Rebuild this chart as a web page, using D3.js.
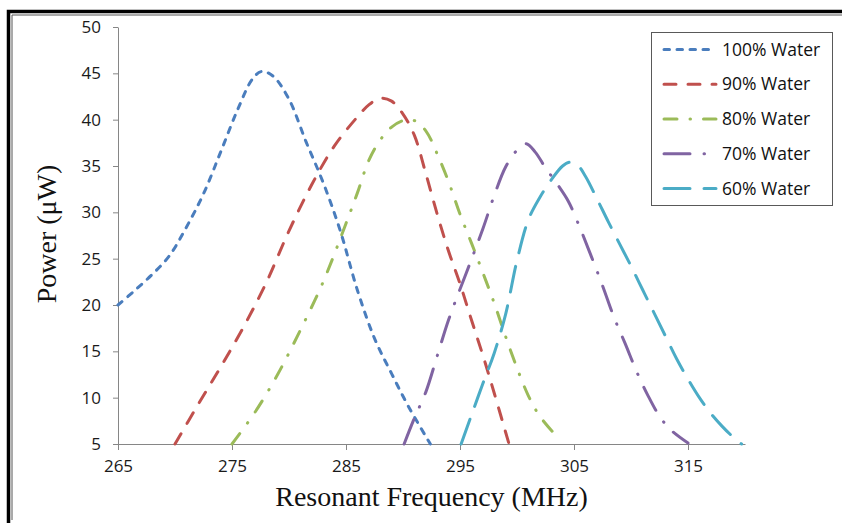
<!DOCTYPE html>
<html>
<head>
<meta charset="utf-8">
<script src="https://cdn.jsdelivr.net/npm/d3@7/dist/d3.min.js"></script>
<style>
  html, body { margin: 0; padding: 0; background: #fff; }
  svg { display: block; }
</style>
</head>
<body>
<div id="chart"></div>
<script>
// Resonant frequency sweep: received power vs frequency for water/soil mixtures
const seriesNames = ["100% Water", "90% Water", "80% Water", "70% Water", "60% Water"];

const freq100  = [265, 266.5, 268, 269.5, 271, 272.5, 274, 275.5, 276.8, 277.6, 278.6, 280, 281.5, 283, 284.5, 286, 287.5, 289, 290.5, 292.4];
const power100 = [20, 21.6, 23.3, 25.3, 28.4, 32.0, 36.5, 41.1, 44.4, 45.2, 44.7, 42.2, 37.6, 33.2, 28.0, 21.6, 16.4, 12.6, 9.0, 5.0];

const freq90  = [270, 272, 274, 276, 278, 280, 282, 284, 286, 287, 288, 289, 290, 291, 292, 293, 294, 295, 296, 297, 298, 299.3];
const power90 = [5, 9.2, 13.3, 17.6, 22.4, 28.0, 33.0, 37.2, 40.3, 41.6, 42.3, 42.0, 40.6, 38.3, 34.2, 29.8, 25.8, 22.3, 18.4, 14.6, 10.5, 5.0];

const freq80  = [275, 277, 279, 281, 283, 285, 286, 287, 288, 289, 290, 291, 292, 293, 294, 295, 296, 297, 298, 299, 300, 301, 302, 303.5];
const power80 = [5, 8.4, 12.5, 17.3, 22.5, 28.8, 32.1, 35.6, 37.8, 39.2, 39.9, 39.9, 38.8, 36.3, 33.3, 29.8, 26.7, 23.5, 20.2, 16.6, 13.2, 10.2, 8.0, 5.8];

const freq70  = [290.1, 291, 292, 293, 294, 295, 296, 297, 298, 299, 300, 300.8, 301.6, 302.5, 303.5, 304.5, 305.5, 306.5, 307.5, 308.5, 309.5, 310.5, 311.5, 312.5, 313.5, 315];
const power70 = [5, 7.8, 10.6, 14.5, 18.4, 21.7, 24.9, 28.2, 31.8, 34.9, 36.7, 37.4, 36.5, 34.8, 33.1, 31.2, 28.4, 25.3, 22.1, 18.7, 15.8, 12.8, 10.2, 8.0, 6.5, 5.1];

const freq60  = [295.1, 296, 297, 298, 299, 300, 301, 302, 303, 304, 304.6, 305.3, 306, 307, 308, 309, 310, 311, 312, 313, 314, 315, 316, 317, 318, 319, 319.7];
const power60 = [5, 8.1, 11.5, 14.8, 19.0, 24.8, 29.2, 31.6, 33.5, 35.0, 35.4, 35.1, 33.9, 31.5, 29.0, 26.6, 24.2, 21.7, 19.2, 16.7, 14.2, 12.0, 10.0, 8.3, 6.9, 5.7, 5.0];

const xTicks = [265, 275, 285, 295, 305, 315];
const yTicks = [5, 10, 15, 20, 25, 30, 35, 40, 45, 50];

// styling per series (colour, dash pattern drawn with round caps)
const colors = ["#4a7dbd", "#c0504d", "#9bbb59", "#8064a2", "#4bacc6"];
const dashes = ["5.5,7.5", "12,12", "13,13,0.5,13", "26,14,0.5,14", "26,14"];

const freqs = [freq100, freq90, freq80, freq70, freq60];
const powers = [power100, power90, power80, power70, power60];
const series = seriesNames.map((name, i) => ({
  name, color: colors[i], dash: dashes[i],
  points: freqs[i].map((f, j) => ({ f, p: powers[i][j] }))
}));

const W = 842, H = 523;
const margin = { left: 118, right: 97, top: 27, bottom: 79 };

const svg = d3.select("#chart").append("svg")
  .attr("width", W).attr("height", H);

svg.append("rect").attr("width", W).attr("height", H).attr("fill", "#fff");

// outer frame (thick black edge with a thin inner rule)
svg.append("path")
  .attr("d", `M8.5,${H + 5} V11.5 H${W + 5}`)
  .attr("fill", "none").attr("stroke", "#000").attr("stroke-width", 3.5);
svg.append("path")
  .attr("d", `M12,${H - 3} V15 H${W + 5}`)
  .attr("fill", "none").attr("stroke", "#555").attr("stroke-width", 1);

const x = d3.scaleLinear().domain([265, 320]).range([margin.left, W - margin.right]);
const y = d3.scaleLinear().domain([5, 50]).range([H - margin.bottom, margin.top]);

const axisColor = "#868686";
const tickFont = "'Open Sans', sans-serif";

const xAxis = svg.append("g")
  .attr("transform", `translate(0,${y(5)})`)
  .call(d3.axisBottom(x).tickValues(xTicks).tickFormat(d3.format("d")).tickSize(6).tickSizeOuter(0).tickPadding(10));
const yAxis = svg.append("g")
  .attr("transform", `translate(${x(265)},0)`)
  .call(d3.axisLeft(y).tickValues(yTicks).tickFormat(d3.format("d")).tickSize(5).tickSizeOuter(0).tickPadding(12));

[xAxis, yAxis].forEach(g => {
  g.select(".domain").attr("stroke", axisColor).attr("stroke-width", 1);
  g.selectAll(".tick line").attr("stroke", axisColor);
  g.selectAll(".tick text")
    .attr("fill", "#1a1a1a")
    .style("font-family", tickFont)
    .style("font-size", "17px");
});

// curves
const line = d3.line()
  .x(d => x(d.f))
  .y(d => y(d.p))
  .curve(d3.curveCatmullRom.alpha(0.5));

const plot = svg.append("g");
series.forEach(s => {
  plot.append("path")
    .datum(s.points)
    .attr("d", line)
    .attr("fill", "none")
    .attr("stroke", s.color)
    .attr("stroke-width", 3)
    .attr("stroke-linecap", "round")
    .attr("stroke-dasharray", s.dash);
});

// axis titles
svg.append("text")
  .attr("x", (x(265) + x(320)) / 2)
  .attr("y", 506)
  .attr("text-anchor", "middle")
  .style("font-family", "'Liberation Serif', 'Times New Roman', serif")
  .style("font-size", "28px")
  .attr("fill", "#111")
  .text("Resonant Frequency (MHz)");

svg.append("text")
  .attr("transform", "translate(56,234) rotate(-90)")
  .attr("text-anchor", "middle")
  .style("font-family", "'Liberation Serif', 'Times New Roman', serif")
  .style("font-size", "28px")
  .attr("fill", "#111")
  .text("Power (μW)");

// legend
const legend = svg.append("g");
legend.append("rect")
  .attr("x", 651.5).attr("y", 32.5)
  .attr("width", 181).attr("height", 173)
  .attr("fill", "#fff").attr("stroke", "#595959").attr("stroke-width", 1);

series.forEach((s, i) => {
  const cy = 49.5 + i * 34.75;
  legend.append("line")
    .attr("x1", 664).attr("x2", 716)
    .attr("y1", cy).attr("y2", cy)
    .attr("stroke", s.color)
    .attr("stroke-width", 3)
    .attr("stroke-linecap", "round")
    .attr("stroke-dasharray", s.dash);
  legend.append("text")
    .attr("x", 722).attr("y", cy)
    .attr("dy", "0.35em")
    .style("font-family", "'Open Sans', sans-serif")
    .style("font-size", "17.5px")
    .attr("fill", "#111")
    .text(s.name);
});
</script>
</body>
</html>
